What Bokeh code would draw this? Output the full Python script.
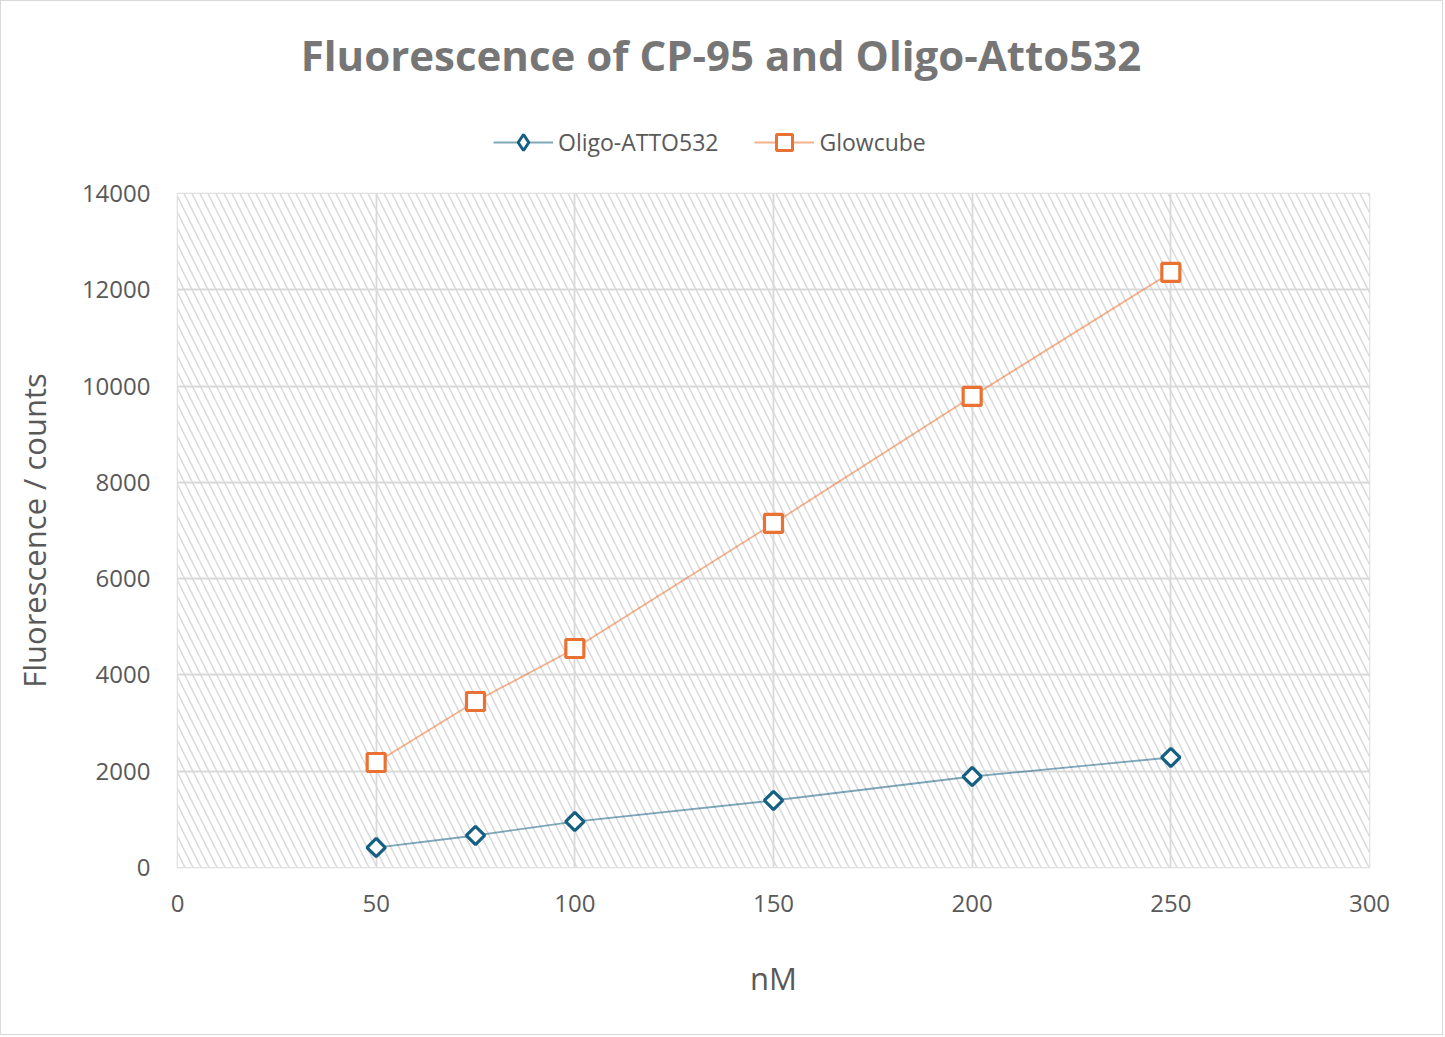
import math
from bokeh.plotting import figure
from bokeh.layouts import column
from bokeh.models import Legend, LegendItem, Range1d, FixedTicker, Label
from bokeh.embed import file_html
from bokeh.resources import INLINE

concentration_nm = [50, 75, 100, 150, 200, 250]
oligo_atto532 = [415, 665, 955, 1392, 1890, 2285]
glowcube = [2181, 3448, 4549, 7146, 9784, 12360]
x_ticks = [0, 50, 100, 150, 200, 250, 300]
y_ticks = [0, 2000, 4000, 6000, 8000, 10000, 12000, 14000]
title_text = "Fluorescence of CP-95 and Oligo-Atto532"
series_names = ["Oligo-ATTO532", "Glowcube"]

TEXT = "#595959"
GRID = "#d9d9d9"
FONT = "Open Sans"
BLUE = "#156082"
ORANGE = "#e97132"
NAN = float("nan")

LEFT, FRAME_W, FRAME_H = 176, 1192, 674
W, HEAD_H = 1441, 172
RIGHT = W - LEFT - FRAME_W

# ---------- header: title + legend (frame aligned with the main chart's frame) ----------
head = figure(width=W, height=HEAD_H, output_backend="svg", toolbar_location=None,
              x_range=Range1d(0, FRAME_W), y_range=Range1d(0, HEAD_H),
              min_border_left=LEFT, min_border_right=RIGHT, min_border_top=0, min_border_bottom=0,
              x_axis_type=None, y_axis_type=None)
head.outline_line_color = None
head.grid.visible = False
head.add_layout(Label(x=W / 2 - LEFT - 1, y=119, text=title_text, text_align="center",
                      text_baseline="alphabetic", text_font=FONT, text_font_size="42px",
                      text_font_style="bold", text_color="#767676"))

h1 = head.line([NAN, NAN], [NAN, NAN], line_color=BLUE, line_alpha=0.55, line_width=1.8)
k1 = head.scatter([NAN], [NAN], marker="diamond", fill_color="white", line_color=BLUE, line_width=3)
h2 = head.line([NAN, NAN], [NAN, NAN], line_color=ORANGE, line_alpha=0.55, line_width=1.8)
k2 = head.scatter([NAN], [NAN], marker="square", fill_color="white", line_color=ORANGE, line_width=3)

legend = Legend(items=[LegendItem(label=series_names[0], renderers=[h1, k1]),
                       LegendItem(label=series_names[1], renderers=[h2, k2])],
                orientation="horizontal", location=(316, 11))
legend.border_line_color = None
legend.background_fill_alpha = 0
legend.label_text_font = FONT
legend.label_text_font_size = "23px"
legend.label_text_color = TEXT
legend.glyph_width = 60
legend.glyph_height = 40
legend.spacing = 36
legend.label_standoff = 5
legend.margin = 0
legend.padding = 0
head.add_layout(legend)

# ---------- main chart ----------
p = figure(frame_width=FRAME_W, frame_height=FRAME_H, output_backend="svg", toolbar_location=None,
           x_range=Range1d(0, 300), y_range=Range1d(0, 14000),
           min_border_left=LEFT, min_border_right=RIGHT, min_border_top=20,
           min_border_bottom=167)
p.outline_line_color = GRID
p.outline_line_width = 1.5

# hatched plot area
p.quad(left=[x_ticks[0]], right=[x_ticks[-1]], bottom=[y_ticks[0]], top=[y_ticks[-1]],
       fill_color="white", line_color=None, hatch_pattern="\\", hatch_color="#dadada",
       hatch_scale=16, hatch_weight=1.5, level="image")

for g in (p.xgrid[0], p.ygrid[0]):
    g.grid_line_color = GRID
    g.grid_line_width = 1.8
    g.level = "underlay"
p.xaxis.ticker = FixedTicker(ticks=x_ticks)
p.yaxis.ticker = FixedTicker(ticks=y_ticks)

for ax in (p.xaxis[0], p.yaxis[0]):
    ax.axis_line_color = None
    ax.major_tick_line_color = None
    ax.minor_tick_line_color = None
    ax.major_label_text_font = FONT
    ax.major_label_text_font_size = "24px"
    ax.major_label_text_color = TEXT
    ax.axis_label_text_font = FONT
    ax.axis_label_text_color = TEXT
    ax.axis_label_text_font_style = "normal"
    ax.axis_label_text_font_size = "31px"

p.xaxis.axis_label = "nM"
p.xaxis.major_label_standoff = 21
p.xaxis.axis_label_standoff = 42
p.yaxis.axis_label = "Fluorescence / counts"
p.yaxis.major_label_standoff = 21
p.yaxis.axis_label_standoff = 24

p.line(concentration_nm, oligo_atto532, line_color=BLUE, line_alpha=0.55, line_width=1.8)
p.scatter(concentration_nm, oligo_atto532, marker="square", angle=math.pi / 4, size=13,
          fill_color="white", line_color=BLUE, line_width=3.2)
p.line(concentration_nm, glowcube, line_color=ORANGE, line_alpha=0.55, line_width=1.8)
p.scatter(concentration_nm, glowcube, marker="square", size=18,
          fill_color="white", line_color=ORANGE, line_width=3.2)

layout = column(head, p, spacing=0)
layout.styles = {"border": "1px solid #d9d9d9"}

open("out.html", "w").write(file_html(layout, INLINE))
